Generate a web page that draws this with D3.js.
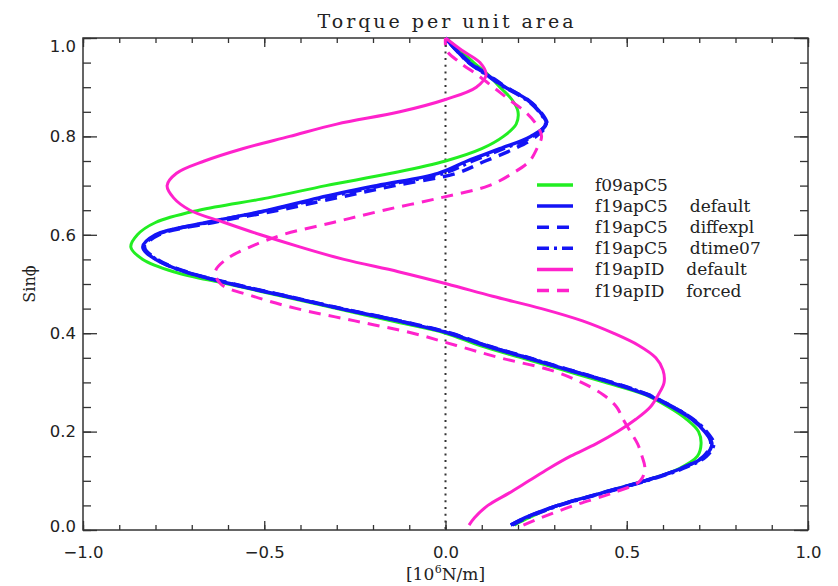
<!DOCTYPE html>
<html>
<head>
<meta charset="utf-8">
<script src="https://cdn.jsdelivr.net/npm/d3@7"></script>
<style>
  html, body { margin: 0; padding: 0; background: #fff; }
  svg { display: block; }
</style>
</head>
<body>
<svg width="838" height="586"></svg>
<script>
// sin(phi) grid shared by all the curves
const sinPhi = [0.01, 0.025, 0.05, 0.075, 0.1, 0.125, 0.15, 0.175, 0.2, 0.225,
    0.25, 0.275, 0.3, 0.325, 0.35, 0.375, 0.4, 0.425, 0.45, 0.475,
    0.5, 0.525, 0.55, 0.575, 0.6, 0.625, 0.65, 0.675, 0.7, 0.725,
    0.75, 0.775, 0.8, 0.825, 0.85, 0.875, 0.9, 0.925, 0.95, 0.975, 1.0]

// torque per unit area [10^6 N/m]
const f09apC5 = [0.19, 0.23, 0.31, 0.43, 0.55, 0.645, 0.695, 0.705, 0.698, 0.665,
    0.615, 0.55, 0.44, 0.325, 0.21, 0.095, 0.0, -0.15, -0.30, -0.45,
    -0.60, -0.75, -0.835, -0.868, -0.85, -0.80, -0.68, -0.49, -0.33, -0.15,
    0.0, 0.10, 0.16, 0.195, 0.20, 0.183, 0.15, 0.118, 0.078, 0.04, 0.0]
const f19apC5Default = [0.18, 0.22, 0.31, 0.43, 0.55, 0.65, 0.715, 0.735, 0.715, 0.68,
    0.625, 0.555, 0.455, 0.34, 0.225, 0.11, 0.01, -0.13, -0.29, -0.44,
    -0.59, -0.72, -0.80, -0.835, -0.80, -0.66, -0.49, -0.35, -0.19, -0.02,
    0.06, 0.15, 0.235, 0.278, 0.26, 0.225, 0.165, 0.115, 0.065, 0.03, 0.0]
const f19apC5Diffexpl = [0.18, 0.22, 0.31, 0.43, 0.55, 0.65, 0.712, 0.732, 0.718, 0.682,
    0.628, 0.56, 0.46, 0.345, 0.23, 0.115, 0.015, -0.125, -0.285, -0.435,
    -0.585, -0.715, -0.795, -0.83, -0.79, -0.64, -0.46, -0.30, -0.14, 0.03,
    0.11, 0.19, 0.25, 0.28, 0.262, 0.226, 0.168, 0.118, 0.068, 0.032, 0.0]
const f19apC5Dtime07 = [0.185, 0.225, 0.315, 0.435, 0.555, 0.655, 0.72, 0.74, 0.72, 0.684,
    0.628, 0.558, 0.458, 0.342, 0.227, 0.112, 0.012, -0.128, -0.288, -0.438,
    -0.588, -0.718, -0.798, -0.832, -0.795, -0.655, -0.485, -0.335, -0.175, -0.005,
    0.075, 0.16, 0.24, 0.276, 0.258, 0.222, 0.163, 0.113, 0.064, 0.03, 0.0]
const f19apIDDefault = [0.065, 0.08, 0.117, 0.175, 0.23, 0.285, 0.345, 0.415, 0.475, 0.525,
    0.565, 0.587, 0.603, 0.60, 0.58, 0.533, 0.463, 0.378, 0.265, 0.13,
    0.005, -0.13, -0.28, -0.40, -0.51, -0.61, -0.705, -0.75, -0.768, -0.742,
    -0.665, -0.56, -0.43, -0.30, -0.126, 0.0, 0.085, 0.112, 0.095, 0.045, 0.0]
const f19apIDForced = [0.215, 0.264, 0.355, 0.46, 0.537, 0.55, 0.542, 0.53, 0.51, 0.49,
    0.472, 0.435, 0.375, 0.29, 0.15, 0.03, -0.09, -0.25, -0.41, -0.53,
    -0.62, -0.635, -0.605, -0.54, -0.45, -0.31, -0.17, -0.015, 0.12, 0.185,
    0.232, 0.252, 0.265, 0.25, 0.22, 0.175, 0.132, 0.088, 0.04, 0.003, 0.0]

const seriesNames = ['f09apC5', 'f19apC5', 'f19apC5', 'f19apC5', 'f19apID', 'f19apID']
const seriesNotes = ['', 'default', 'diffexpl', 'dtime07', 'default', 'forced']

const xTicks = [-1.0, -0.5, 0.0, 0.5, 1.0]
const xMinorTicks = d3.range(-10, 11).map((d) => d / 10)
const yTicks = [0.0, 0.2, 0.4, 0.6, 0.8, 1.0]
const yMinorTicks = d3.range(0, 21).map((d) => d / 20)

const green = '#22ee22'
const blue = '#1414f5'
const pink = '#ff22cc'

const series = [
    { values: f09apC5, color: green, dash: null, width: 3 },
    { values: f19apC5Default, color: blue, dash: null, width: 3.5 },
    { values: f19apC5Diffexpl, color: blue, dash: '12,8', width: 3.5 },
    { values: f19apC5Dtime07, color: blue, dash: '12,5,3,5', width: 3.5 },
    { values: f19apIDDefault, color: pink, dash: null, width: 3 },
    { values: f19apIDForced, color: pink, dash: '12,8', width: 3 },
].map((s, i) => ({ ...s, name: seriesNames[i], note: seriesNotes[i] }))

const svg = d3.select('svg')
const chartWidth = 838
const chartHeight = 586
const marginLeft = 83
const marginRight = 30
const marginTop = 38
const marginBottom = 56
const plotWidth = chartWidth - marginLeft - marginRight
const plotHeight = chartHeight - marginTop - marginBottom

const xScale = d3.scaleLinear().domain([-1, 1]).range([0, plotWidth])
const yScale = d3.scaleLinear().domain([0, 1]).range([plotHeight, 0])

const plot = svg.append('g').attr('transform', `translate(${marginLeft}, ${marginTop})`)

// title
svg.append('text')
    .attr('x', marginLeft + plotWidth / 2)
    .attr('y', 28)
    .attr('text-anchor', 'middle')
    .attr('font-family', 'DejaVu Serif')
    .attr('font-size', 19)
    .attr('textLength', 256)
    .attr('lengthAdjust', 'spacing')
    .attr('fill', '#222')
    .text('Torque per unit area')

// axes, ticks point inward
const axisColor = '#333'
const tickFont = (g) => g.selectAll('text')
    .attr('font-family', 'DejaVu Sans')
    .attr('font-size', 16.5)
    .attr('fill', '#222')
const cleanAxis = (g) => {
    g.select('.domain').remove()
    g.selectAll('.tick line').attr('stroke', axisColor).attr('stroke-width', 1.3)
}

plot.append('g')
    .attr('transform', `translate(0, ${plotHeight})`)
    .call(d3.axisBottom(xScale).tickValues(xMinorTicks).tickSize(-5).tickFormat(''))
    .call(cleanAxis)
plot.append('g')
    .attr('transform', `translate(0, ${plotHeight})`)
    .call(d3.axisBottom(xScale).tickValues(xTicks).tickSize(-9).tickPadding(16)
        .tickFormat(d3.format('.1f')))
    .call(cleanAxis)
    .call(tickFont)
plot.append('g')
    .call(d3.axisTop(xScale).tickValues(xMinorTicks).tickSize(-5).tickFormat(''))
    .call(cleanAxis)
plot.append('g')
    .call(d3.axisTop(xScale).tickValues(xTicks).tickSize(-9).tickFormat(''))
    .call(cleanAxis)

plot.append('g')
    .call(d3.axisLeft(yScale).tickValues(yMinorTicks).tickSize(-8).tickFormat(''))
    .call(cleanAxis)
plot.append('g')
    .call(d3.axisLeft(yScale).tickValues(yTicks).tickSize(-14).tickPadding(7)
        .tickFormat(d3.format('.1f')))
    .call(cleanAxis)
    .call(tickFont)
    .call((g) => g.selectAll('.tick text')
        .attr('dy', (d) => (d === 1 ? '0.8em' : d === 0 ? '0.08em' : '0.32em')))
plot.append('g')
    .attr('transform', `translate(${plotWidth}, 0)`)
    .call(d3.axisRight(yScale).tickValues(yMinorTicks).tickSize(-8).tickFormat(''))
    .call(cleanAxis)
plot.append('g')
    .attr('transform', `translate(${plotWidth}, 0)`)
    .call(d3.axisRight(yScale).tickValues(yTicks).tickSize(-14).tickFormat(''))
    .call(cleanAxis)

plot.append('rect')
    .attr('width', plotWidth)
    .attr('height', plotHeight)
    .attr('fill', 'none')
    .attr('stroke', axisColor)
    .attr('stroke-width', 1.5)

// axis titles
const xLabel = svg.append('text')
    .attr('x', marginLeft + plotWidth / 2)
    .attr('y', 580)
    .attr('text-anchor', 'middle')
    .attr('font-family', 'DejaVu Serif')
    .attr('font-size', 17)
    .attr('fill', '#222')
xLabel.append('tspan').text('[10')
xLabel.append('tspan').attr('font-size', 11).attr('dy', -7).attr('dx', 0.5).text('6')
xLabel.append('tspan').attr('dy', 7).text('N/m]')

svg.append('text')
    .attr('transform', `translate(35, ${marginTop + plotHeight / 2}) rotate(-90)`)
    .attr('text-anchor', 'middle')
    .attr('font-family', 'DejaVu Serif')
    .attr('font-size', 16)
    .attr('fill', '#222')
    .text('Sinϕ')

// zero line
plot.append('line')
    .attr('x1', xScale(0))
    .attr('x2', xScale(0))
    .attr('y1', 0)
    .attr('y2', plotHeight)
    .attr('stroke', '#333')
    .attr('stroke-width', 2)
    .attr('stroke-dasharray', '2,4.7')

// curves
const line = d3.line()
    .defined((d) => d.x != null)
    .x((d) => xScale(d.x))
    .y((d) => yScale(d.s))
    .curve(d3.curveCatmullRom.alpha(0.5))

plot.append('g')
    .attr('class', 'data-container')
    .selectAll('path')
    .data(series)
    .join('path')
    .attr('d', (d) => line(d.values.map((x, i) => ({ x, s: sinPhi[i] }))))
    .attr('fill', 'none')
    .attr('stroke', (d) => d.color)
    .attr('stroke-width', (d) => d.width)
    .attr('stroke-dasharray', (d) => d.dash)
    .attr('stroke-linejoin', 'round')

// legend
const legend = svg.append('g')
    .attr('class', 'legend-container')
    .attr('transform', 'translate(537, 185)')

const items = legend.selectAll('g.legend-item')
    .data(series)
    .join('g')
    .attr('class', 'legend-item')
    .attr('transform', (d, i) => `translate(0, ${i * 21.1})`)

items.append('line')
    .attr('x1', 0)
    .attr('x2', 36)
    .attr('stroke', (d) => d.color)
    .attr('stroke-width', 3.5)
    .attr('stroke-dasharray', (d) => d.dash)

items.append('text')
    .attr('class', 'legend-label')
    .attr('x', 58)
    .attr('y', 6)
    .attr('font-family', 'DejaVu Serif')
    .attr('font-size', 17)
    .attr('fill', '#222')
    .text((d) => d.name)

items.append('text')
    .attr('y', 6)
    .attr('font-family', 'DejaVu Serif')
    .attr('font-size', 17)
    .attr('fill', '#222')
    .attr('x', function (d) {
        const nameWidth = d3.select(this.parentNode).select('text.legend-label').node().getComputedTextLength()
        return 58 + nameWidth + 22
    })
    .text((d) => d.note)
</script>
</body>
</html>
